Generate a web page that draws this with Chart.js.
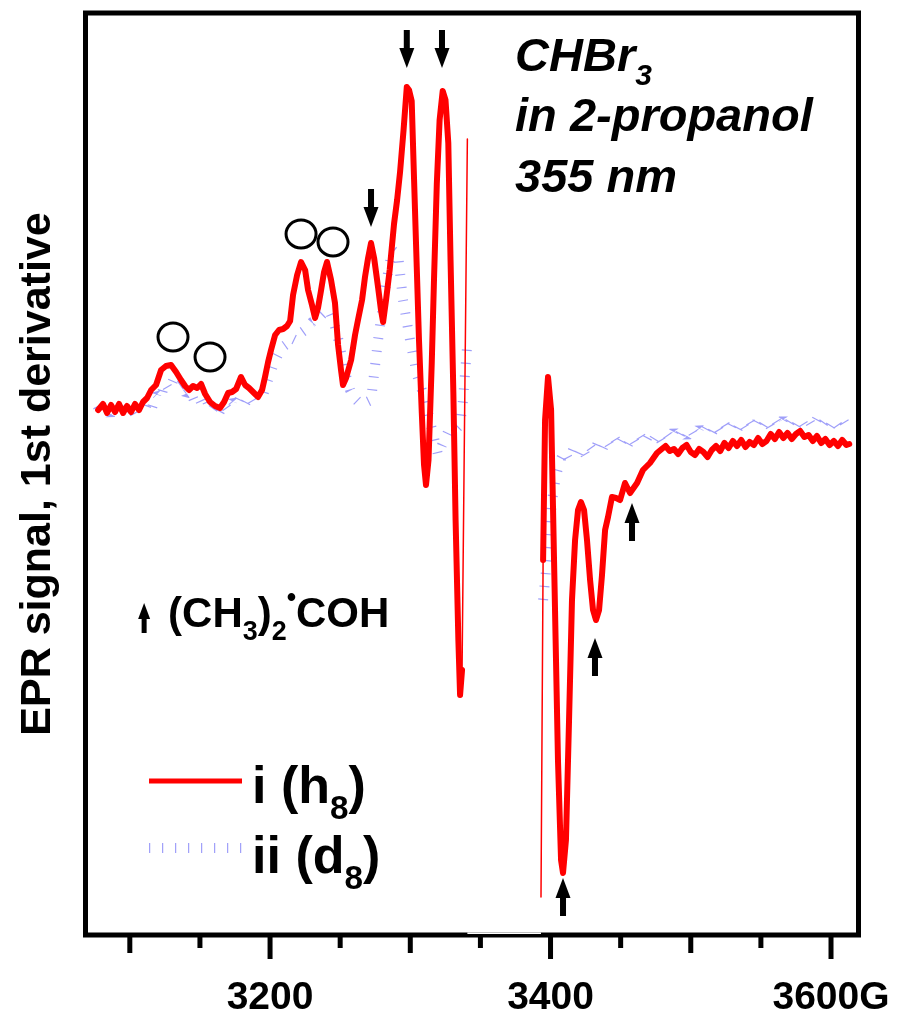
<!DOCTYPE html>
<html lang="en">
<head>
  <meta charset="UTF-8">
  <title>EPR spectrum - CHBr3 in 2-propanol</title>
  <script src="https://cdn.jsdelivr.net/npm/chart.js"></script>
  <style>
    body {
      margin: 0;
      padding: 0;
      background: #ffffff;
    }
    .wrap {
      width: 898px;
      height: 1019px;
      position: relative;
    }
  </style>
</head>
<body>

  <div class="wrap">
    <canvas id="epr"></canvas>
  </div>

  <script>
    // Spectrum i (h8) - field in G, signal in arbitrary units (null = gap in the sweep)
    const redField = [
      3077.4, 3080.9, 3083.8, 3086.6, 3089.5, 3092.3, 3095.2, 3098.0, 3100.9, 3103.7,
      3106.6, 3109.4, 3112.3, 3115.2, 3118.7, 3122.3, 3125.8, 3129.4, 3133.0, 3136.5,
      3139.4, 3142.2, 3145.1, 3148.0, 3150.8, 3153.7, 3157.2, 3160.8, 3164.3, 3167.2,
      3170.1, 3172.9, 3175.8, 3179.3, 3182.2, 3185.0, 3188.6, 3191.4, 3194.3, 3196.4,
      3198.6, 3200.7, 3203.6, 3206.4, 3209.3, 3212.1, 3214.3, 3216.4, 3219.3, 3222.1,
      3225.0, 3227.1, 3229.9, 3232.1, 3234.2, 3236.4, 3238.5, 3240.6, 3243.5, 3246.3,
      3248.5, 3250.6, 3252.0, 3254.2, 3257.8, 3260.6, 3262.7, 3265.6, 3267.7, 3269.9,
      3272.0, 3274.2, 3277.0, 3279.1, 3280.6, 3282.7, 3285.3, 3288.4, 3290.6, 3292.7,
      3295.2, 3297.5, 3299.1, 3301.0, 3302.7, 3304.6, 3306.2, 3308.2, 3309.8, 3311.2,
      3313.0, 3315.3, 3316.9, 3318.9, 3320.9, 3323.1, 3325.1, 3327.1, 3328.7, 3330.7,
      3332.3, 3334.3, 3335.5, 3336.9, 3340.7,
      3365.0,
      3393.2, 3394.7, 3396.1, 3398.2, 3400.4, 3402.5, 3405.3, 3407.5, 3408.9, 3411.0,
      3413.2, 3415.3, 3417.5, 3419.6, 3421.7, 3423.9, 3426.0, 3428.2, 3430.3, 3432.4,
      3434.6, 3436.7, 3438.9, 3441.0, 3443.8, 3446.7, 3449.6, 3453.1, 3456.7, 3461.7,
      3465.9, 3470.9, 3475.9, 3480.2,
      3482, 3485, 3488, 3491, 3494, 3497, 3500, 3503, 3506, 3509,
      3512, 3515, 3518, 3521, 3524, 3527, 3530, 3533, 3536, 3539,
      3542, 3545, 3548, 3551, 3554, 3557, 3560, 3563, 3566, 3569,
      3572, 3575, 3578, 3581, 3584, 3587, 3590, 3593, 3596, 3599,
      3602, 3605, 3608, 3611, 3613
    ];
    const redSignal = [
      0.0, 0.6, -0.3, 0.5, -0.2, 0.6, -0.3, 0.4, -0.2, 0.6,
      0.0, 0.8, 1.2, 2.0, 2.5, 4.0, 4.4, 4.5, 3.8, 3.0,
      2.4, 2.0, 2.4, 2.2, 2.6, 1.6, 0.8, 0.4, 0.2, 0.8,
      1.7, 1.8, 2.1, 3.3, 2.5, 2.2, 1.7, 1.3, 2.0, 3.3,
      4.8, 6.0, 7.5, 8.0, 8.1, 8.4, 8.9, 11.5, 13.5, 14.8,
      14.0, 12.0, 10.5, 9.2, 10.2, 12.0, 13.8, 14.8, 13.0, 10.7,
      6.5, 4.0, 2.5, 3.2, 5.0, 7.5, 9.0, 11.0, 13.3, 15.2,
      16.7, 15.2, 12.3, 10.0, 8.8, 11.0, 14.0, 18.6, 21.0, 23.8,
      28.0, 32.3, 32.0, 30.9, 23.0, 14.3, 7.0, -0.3, -5.5, -7.5,
      -5.0, 4.7, 13.0, 22.6, 29.0, 31.9, 31.0, 26.7, 15.0, 1.8,
      -11.0, -23.1, -28.5, -26.0, 27.1,
      null,
      -48.7, -15.0, -1.0, 3.3, 0.0, -15.0, -35.0, -45.0, -46.3, -43.0,
      -31.0, -19.0, -13.0, -10.0, -9.2, -10.0, -13.0, -17.0, -20.0, -21.0,
      -20.0, -16.5, -12.0, -10.7, -8.7, -8.8, -9.0, -7.3, -8.3, -7.3,
      -6.0, -5.3, -4.3, -3.8,
      -3.6, -4.1, -3.9, -4.4, -3.8, -3.5, -4.2, -4.5, -3.9, -4.2,
      -4.7, -4.0, -3.6, -4.1, -3.3, -3.8, -3.1, -3.6, -3.0, -3.7,
      -3.2, -3.5, -2.8, -3.4, -3.1, -2.4, -2.9, -2.2, -2.8, -2.3,
      -2.9, -2.4, -2.1, -2.7, -2.5, -3.1, -2.6, -3.3, -2.9, -3.5,
      -3.1, -3.6, -3.0, -3.5, -3.4
    ];

    // Spectrum ii (d8)
    const blueField = [
      3077, 3080, 3083, 3086, 3089, 3092, 3095, 3098, 3101, 3104,
      3107, 3110, 3113, 3116, 3119, 3122, 3125, 3128, 3131, 3134,
      3137, 3140, 3143, 3146, 3149, 3152, 3155, 3158, 3161, 3164,
      3167, 3170, 3173, 3176, 3179, 3182, 3185, 3188, 3191, 3194,
      3197, 3200, 3203, 3206, 3209, 3212, 3215, 3218, 3221, 3224,
      3227, 3230, 3233, 3236, 3239, 3242, 3245, 3248, 3251, 3254,
      3257, 3260, 3263, 3266, 3269, 3272, 3277.0, 3282.0, 3287.0, 3291.3,
      3294.8, 3299.8, 3304.8, 3310.5, 3315.5, 3319.8, 3322.6, 3326.9, 3331.9, 3335.5,
      3337.6, 3340.5,
      3365.0,
      3394.7, 3397.5, 3401.1, 3404, 3407,
      3410, 3413, 3416, 3419, 3422, 3425, 3428, 3431, 3434, 3437,
      3440, 3443, 3446, 3449, 3452, 3455, 3458, 3461, 3464, 3467,
      3470, 3473, 3476, 3479, 3482, 3485, 3488, 3491, 3494, 3497,
      3500, 3503, 3506, 3509, 3512, 3515, 3518, 3521, 3524, 3527,
      3530, 3533, 3536, 3539, 3542, 3545, 3548, 3551, 3554, 3557,
      3560, 3563, 3566, 3569, 3572, 3575, 3578, 3581, 3584, 3587,
      3590, 3593, 3596, 3599, 3602, 3605, 3608, 3611, 3614
    ];
    const blueSignal = [
      0.4, -0.4, 0.3, -0.5, 0.4, -0.3, 0.5, -0.4, 0.3, -0.5,
      0.4, -0.2, 0.9, 0.3, 1.6, 1.2, 2.7, 2.0, 3.0, 2.3,
      2.6, 1.6, 1.9, 0.9, 1.3, 0.4, 0.9, -0.1, 0.5, -0.2,
      0.6, 0.0, 0.9, 0.4, 1.3, 0.6, 1.4, 0.7, 1.5, 1.0,
      2.4, 3.6, 4.8, 5.6, 6.3, 6.6, 7.2, 7.0, 7.6, 7.9,
      8.3, 8.8, 9.0, 9.4, 9.8, 10.0, 9.0, 7.5, 5.5, 3.5,
      2.0, 1.2, 0.8, 0.6, 0.8, 1.0, 7.0, 12.0, 16.0, 15.5,
      11.0, 7.0, 3.5, 1.0, -2.0, -4.5, -3.5, -2.2, -2.0, -1.5,
      1.0, 6.4,
      null,
      -19.0, -15.0, -9.0, -6.5, -5.0,
      -4.2, -5.0, -4.0, -4.7, -3.8, -4.5, -3.6, -4.2, -3.2, -3.9,
      -3.0, -3.7, -2.9, -3.6, -2.8, -3.5, -2.7, -3.4, -2.6, -3.3,
      -2.5, -3.1, -2.4, -3.1, -2.3, -2.9, -2.1, -2.8, -2.0, -2.7,
      -1.9, -2.6, -1.8, -2.4, -1.6, -2.3, -1.5, -2.2, -1.4, -2.1,
      -1.3, -2.0, -1.2, -1.9, -1.1, -1.8, -1.0, -1.7, -1.0, -1.7,
      -0.9, -1.6, -0.9, -1.6, -0.9, -1.6, -0.9, -1.6, -1.0, -1.7,
      -0.9, -1.6, -1.0, -1.7, -1.0, -1.6, -0.9, -1.6, -1.1
    ];

    // Axis range, tick positions and labelled field values
    const fieldMin = 3068.4;
    const fieldMax = 3619.6;
    const signalMin = -52.5;
    const signalMax = 39.7;
    const tickValues = [3100, 3150, 3200, 3250, 3300, 3350, 3400, 3450, 3500, 3550, 3600];
    const labelValues = [3200, 3400, 3600];
    const labelTexts = ['3200', '3400', '3600G'];

    // Marked lines: circles (field, signal), down arrows over peaks, up arrows for (CH3)2COH
    const circleField = [3130.8, 3157.2, 3222.1, 3244.9];
    const circleSignal = [7.3, 5.3, 17.6, 16.8];
    const downArrowField = [3272.0, 3297.5, 3322.6];
    const downArrowTip = [18.3, 34.2, 34.2];
    const upArrowField = [3408.9, 3431.7, 3458.1];
    const upArrowTip = [-46.8, -22.8, -9.3];

    const FONT = "'Liberation Sans', Arial, Helvetica, sans-serif";

    function toPoints(xs, ys) {
      return xs.map((x, i) => ({ x: x, y: ys[i] }));
    }

    // text made of pieces, some of them sub/superscript
    function richText(ctx, x, y, parts, size, style) {
      for (const p of parts) {
        const s = (p.sub || p.sup) ? size * 0.64 : size;
        ctx.font = style + ' ' + s + 'px ' + FONT;
        let dy = 0;
        if (p.sub) dy = size * 0.3;
        if (p.sup) dy = -size * 0.5;
        ctx.fillText(p.t, x, y + dy);
        x += ctx.measureText(p.t).width;
      }
    }

    function arrow(ctx, x, yTip, dir, len, headLen, headW, shaftW) {
      // dir = -1 points up, +1 points down
      const yTail = yTip - dir * len;
      const yBase = yTip - dir * headLen;
      ctx.beginPath();
      ctx.moveTo(x, yTip);
      ctx.lineTo(x - headW / 2, yBase);
      ctx.lineTo(x + headW / 2, yBase);
      ctx.closePath();
      ctx.fill();
      ctx.fillRect(x - shaftW / 2, Math.min(yBase, yTail), shaftW, Math.abs(yTail - yBase));
    }

    const decorations = {
      id: 'decorations',
      afterDatasetsDraw(chart) {
        const ctx = chart.ctx;
        const xs = chart.scales.x;
        const ys = chart.scales.y;
        const area = chart.chartArea;
        const px = v => xs.getPixelForValue(v);
        const py = v => ys.getPixelForValue(v);

        ctx.save();
        ctx.fillStyle = '#000';
        ctx.strokeStyle = '#000';

        // frame
        ctx.lineWidth = 5;
        ctx.strokeRect(area.left, area.top, area.right - area.left, area.bottom - area.top);
        // the frame is a little thinner under the sweep gap
        ctx.fillStyle = '#fff';
        ctx.fillRect(px(3340.7), area.bottom - 2.5, px(3393.2) - px(3340.7), 1.5);
        ctx.fillStyle = '#000';

        // outward tick marks, longer at 100 G and 200 G
        ctx.lineWidth = 5;
        xs.ticks.forEach(t => {
          const x = px(t.value);
          const len = t.value % 200 === 0 ? 24 : (t.value % 100 === 0 ? 18 : 13);
          ctx.beginPath();
          ctx.moveTo(x, area.bottom);
          ctx.lineTo(x, area.bottom + len);
          ctx.stroke();
        });

        // circles over the small lines
        ctx.lineWidth = 3;
        circleField.forEach((f, i) => {
          ctx.beginPath();
          ctx.ellipse(px(f), py(circleSignal[i]), 15, 14, 0, 0, Math.PI * 2);
          ctx.stroke();
        });

        // arrows
        downArrowField.forEach((f, i) => arrow(ctx, px(f), py(downArrowTip[i]), 1, 38, 20, 15, 6));
        upArrowField.forEach((f, i) => arrow(ctx, px(f), py(upArrowTip[i]), -1, 38, 20, 15, 6));
        arrow(ctx, px(3110.2), py(-19.3), -1, 30, 16, 12, 5);

        ctx.textBaseline = 'alphabetic';
        ctx.textAlign = 'left';

        // (CH3)2 radical label
        richText(ctx, px(3127.3), py(-21.7), [
          { t: '(CH' }, { t: '3', sub: true }, { t: ')' }, { t: '2', sub: true },
          { t: '\u2022', sup: true }, { t: 'COH' }
        ], 42, 'bold');

        // sample description
        const tx = px(3374.7);
        richText(ctx, tx, py(33.9), [{ t: 'CHBr' }, { t: '3', sub: true }], 47, 'italic bold');
        richText(ctx, tx, py(27.9), [{ t: 'in 2-propanol' }], 47, 'italic bold');
        richText(ctx, tx, py(21.8), [{ t: '355 nm' }], 47, 'italic bold');

        // legend
        const red = chart.data.datasets[0];
        const blue = chart.data.datasets[1];
        const lx0 = px(3113.7);
        const lx1 = px(3180.0);
        ctx.lineCap = 'butt';
        ctx.strokeStyle = red.borderColor;
        ctx.lineWidth = 5;
        ctx.beginPath();
        ctx.moveTo(lx0, py(-37.1));
        ctx.lineTo(lx1, py(-37.1));
        ctx.stroke();
        ctx.strokeStyle = blue.borderColor;
        ctx.lineWidth = blue.borderWidth;
        ctx.setLineDash(blue.borderDash);
        ctx.beginPath();
        ctx.moveTo(lx0, py(-43.8));
        ctx.lineTo(lx1, py(-43.8));
        ctx.stroke();
        ctx.setLineDash([]);

        ctx.fillStyle = '#000';
        const gx = px(3187.2);
        richText(ctx, gx, py(-39.3), [{ t: 'i (h' }, { t: '8', sub: true }, { t: ')' }], 52, 'bold');
        richText(ctx, gx, py(-46.3), [{ t: 'ii (d' }, { t: '8', sub: true }, { t: ')' }], 52, 'bold');

        ctx.restore();
      }
    };

    const canvas = document.getElementById('epr');

    new Chart(canvas, {
      type: 'line',
      data: {
        datasets: [
          {
            label: 'i (h8)',
            data: toPoints(redField, redSignal),
            borderColor: '#ff0000',
            borderWidth: 6,
            borderJoinStyle: 'round',
            borderCapStyle: 'round',
            pointRadius: 0,
            tension: 0,
            spanGaps: false,
            segment: {
              // near-vertical jumps at the sweep gap are drawn thin
              borderWidth: c => {
                const dx = Math.abs(c.p1.x - c.p0.x);
                const dy = Math.abs(c.p1.y - c.p0.y);
                return dy > 80 * dx ? 1.5 : 6;
              }
            }
          },
          {
            label: 'ii (d8)',
            data: toPoints(blueField, blueSignal),
            borderColor: 'rgba(95, 95, 245, 0.6)',
            borderWidth: 10,
            borderDash: [1.2, 11.8],
            borderCapStyle: 'butt',
            borderJoinStyle: 'bevel',
            pointRadius: 0,
            tension: 0,
            spanGaps: false
          }
        ]
      },
      options: {
        responsive: true,
        maintainAspectRatio: false,
        animation: false,
        layout: {
          padding: { top: 13, right: 39.5, left: 0, bottom: 0 }
        },
        plugins: {
          legend: { display: false },
          tooltip: { enabled: false }
        },
        scales: {
          x: {
            type: 'linear',
            min: fieldMin,
            max: fieldMax,
            border: { display: false },
            grid: { display: false, drawTicks: false },
            afterBuildTicks: s => {
              s.ticks = tickValues.map(v => ({ value: v }));
            },
            ticks: {
              autoSkip: false,
              maxRotation: 0,
              padding: 40,
              color: '#000',
              font: { family: FONT, size: 39, weight: 'bold' },
              callback: v => {
                const k = labelValues.indexOf(v);
                return k >= 0 ? labelTexts[k] : '';
              }
            },
            afterFit: s => {
              // labels may hang past the frame; keep the plot width fixed
              s.height = 84;
              s.paddingLeft = 0;
              s.paddingRight = 0;
            }
          },
          y: {
            type: 'linear',
            min: signalMin,
            max: signalMax,
            border: { display: false },
            grid: { display: false, drawTicks: false },
            ticks: { display: false },
            title: {
              display: true,
              text: 'EPR signal, 1st derivative',
              color: '#000',
              font: { family: FONT, size: 43, weight: 'bold' },
              padding: { top: 12, bottom: 0 }
            },
            afterFit: s => {
              s.width = 85.5;
              s.paddingTop = 0;
              s.paddingBottom = 0;
            }
          }
        }
      },
      plugins: [decorations]
    });
  </script>

</body>
</html>
